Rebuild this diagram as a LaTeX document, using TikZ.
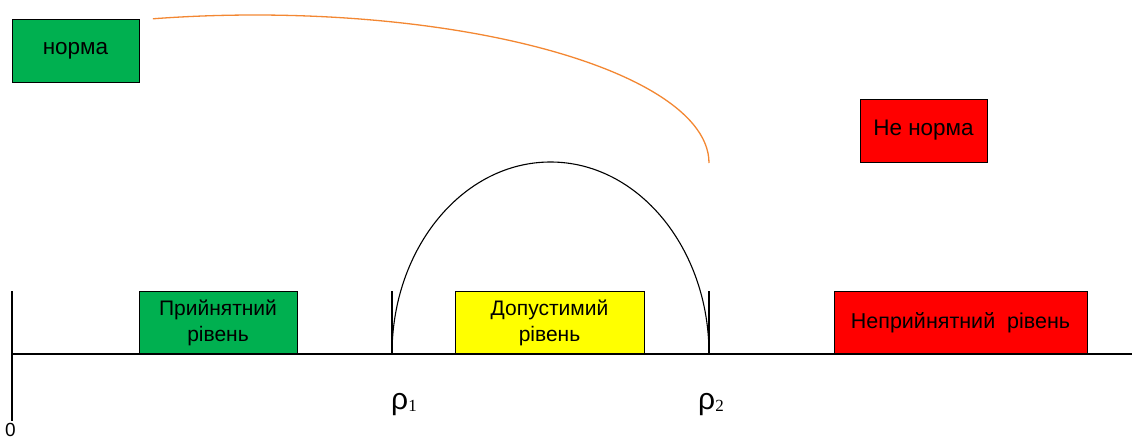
\documentclass[tikz,border=0pt]{standalone}
\usepackage{fontspec}
\setmainfont{Liberation Sans}
\newfontfamily\subfont{Liberation Serif}
\usetikzlibrary{positioning}
\definecolor{NormGreen}{RGB}{0,176,80}
\definecolor{LevelYellow}{RGB}{255,255,0}
\definecolor{AlarmRed}{RGB}{255,0,0}
\definecolor{CurveOrange}{RGB}{243,135,50}
\tikzset{
  levelbox/.style={draw=black,line width=1pt,inner sep=0pt,align=center,
    minimum height=63pt,font=\fontsize{21}{26}\selectfont},
  statebox/.style={levelbox,minimum width=127pt,font=\fontsize{22.5}{26}\selectfont},
  axisline/.style={draw=black,line width=1.2pt},
  rholabel/.style={anchor=base west,inner sep=0pt},
}
\newcommand{\rhosub}[1]{{\fontsize{30}{30}\selectfont ρ}{\subfont\fontsize{17}{17}\selectfont\raisebox{-2pt}{#1}}}

\begin{document}
\begin{tikzpicture}[x=1pt,y={(0pt,-1pt)}]
  \useasboundingbox (0,0) rectangle (1132,439);
  % boxes
  \node[statebox,fill=NormGreen] (norm) at (75.5,51) {норма};
  \node[statebox,fill=AlarmRed] (notnorm) at (923.5,130.5) {Не норма};
  \node[levelbox,fill=NormGreen,minimum width=158pt] (accept) at (218,322.5) {Прийнятний\\рівень};
  \node[levelbox,fill=LevelYellow,minimum width=189pt] (admis) at (549.5,322.5) {Допустимий\\рівень};
  \node[levelbox,fill=AlarmRed,minimum width=253pt,font=\fontsize{21.5}{26}\selectfont] (unaccept) at (960.5,322.5) {Неприйнятний\ \ рівень};
  % axes
  \coordinate (O) at (12,354);
  \coordinate (Otop) at (12,291);
  \coordinate (Obot) at (12,421);
  \coordinate (Xend) at (1132,354);
  \coordinate (r1) at (392,354);
  \coordinate (r1top) at (392,291);
  \coordinate (r2) at (709,354);
  \coordinate (r2top) at (709,291);
  \draw[axisline] (Otop) -- (Obot);
  \draw[axisline] (O) -- (Xend);
  \draw[axisline] (r1top) -- (r1);
  \draw[axisline] (r2top) -- (r2);
  \node[anchor=base,inner sep=0pt,font=\fontsize{19}{19}\selectfont] (zero) at (10.5,436) {0};
  \node[rholabel] (rho1) at (391,409) {\rhosub{1}};
  \node[rholabel] (rho2) at (698,409) {\rhosub{2}};
  % arcs
  \draw[line width=1.1pt] (r1) arc[start angle=180,end angle=0,x radius=158.5pt,y radius=192pt];
  \coordinate (oend) at (709,163);
  \draw[CurveOrange,line width=1.3pt] (oend) arc[start angle=0,end angle=103,x radius=454pt,y radius=148pt];
\end{tikzpicture}
\end{document}
